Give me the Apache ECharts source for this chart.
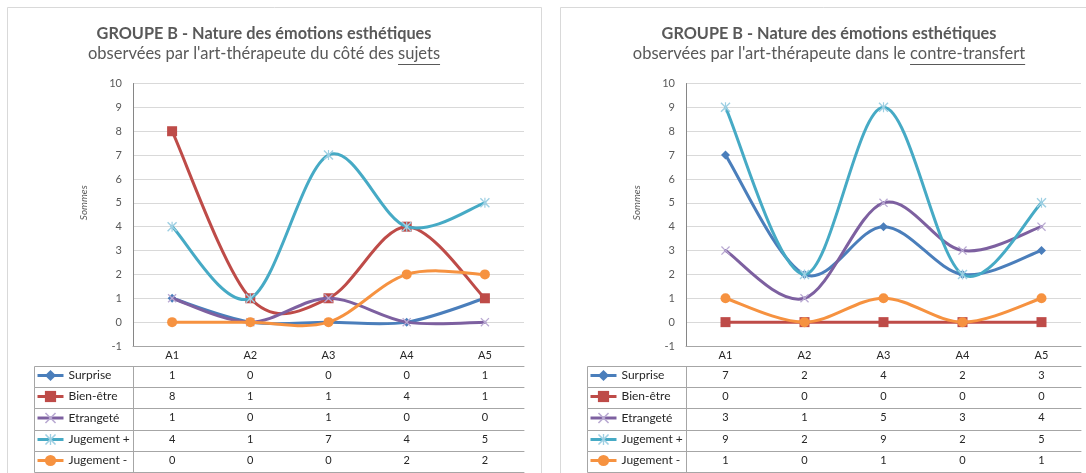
<!DOCTYPE html>
<html>
<head>
<meta charset="utf-8">
<script src="https://cdn.jsdelivr.net/npm/echarts@6/dist/echarts.min.js"></script>
<style>
html, body { margin: 0; padding: 0; background: #fff; overflow: hidden; }
#main { width: 1086px; height: 473px; }
</style>
</head>
<body>
<div id="main"></div>
<script>
// categories + series names
var categories = ['A1', 'A2', 'A3', 'A4', 'A5']
var seriesNames = ['Surprise', 'Bien-être', 'Etrangeté', 'Jugement +', 'Jugement -']

// panneau gauche : du côté des sujets
var sujetsSurprise = [1, 0, 0, 0, 1]
var sujetsBienEtre = [8, 1, 1, 4, 1]
var sujetsEtrangete = [1, 0, 1, 0, 0]
var sujetsJugementPlus = [4, 1, 7, 4, 5]
var sujetsJugementMoins = [0, 0, 0, 2, 2]

// panneau droit : contre-transfert
var ctSurprise = [7, 2, 4, 2, 3]
var ctBienEtre = [0, 0, 0, 0, 0]
var ctEtrangete = [3, 1, 5, 3, 4]
var ctJugementPlus = [9, 2, 9, 2, 5]
var ctJugementMoins = [1, 0, 1, 0, 1]

var FONT = 'Lato, "Open Sans", sans-serif'
var TXT = '#595959'
var TABLE_LINE = '#a6a6a6'
var HEAD_H = 20
var ROW_H = 21.2
var colors = ['#4A7EBB', '#BE4B48', '#7D60A0', '#46AAC5', '#F69240']
var markerColors = ['#4A7EBB', '#BE4B48', '#b9a9d2', '#9fd0e3', '#F69240']
var X_PATH = 'path://M0,1L1,0L5,4L9,0L10,1L6,5L10,9L9,10L5,6L1,10L0,9L4,5Z'
var STAR_PATH = 'path://M0,1L1,0L4.4,3.4L4.4,0L5.6,0L5.6,3.4L9,0L10,1L6,5L10,9L9,10L5.6,6.6L5.6,10L4.4,10L4.4,6.6L1,10L0,9L4,5Z'
var symbols = ['diamond', 'rect', X_PATH, STAR_PATH, 'circle']
var symbolSizes = [9, 10, 9, 10, 10]

var panels = [
  {
    title: 'GROUPE B - Nature des émotions esthétiques',
    subPrefix: "observées par l'art-thérapeute du côté des ",
    subUnder: 'sujets',
    center: 264,
    gridLeft: 133,
    gridWidth: 391,
    tableLeft: 34,
    box: [7.5, 7.5, 534, 480],
    values: [sujetsSurprise, sujetsBienEtre, sujetsEtrangete, sujetsJugementPlus, sujetsJugementMoins]
  },
  {
    title: 'GROUPE B - Nature des émotions esthétiques',
    subPrefix: "observées par l'art-thérapeute dans le ",
    subUnder: 'contre-transfert',
    center: 829,
    gridLeft: 686,
    gridWidth: 395,
    tableLeft: 587,
    box: [560.5, 7.5, 540, 480],
    values: [ctSurprise, ctBienEtre, ctEtrangete, ctJugementPlus, ctJugementMoins]
  }
]

var GRID_TOP = 83.5
var GRID_H = 262.5

// décalage (px entiers) de la ligne k du tableau sous l'axe
function rowOffset(k) {
  return HEAD_H + Math.round(k * ROW_H)
}

var measure = document.createElement('canvas').getContext('2d')
function textWidth(txt, font) {
  measure.font = font
  return measure.measureText(txt).width
}

// courbe lissée façon Excel (Catmull-Rom) entre deux points consécutifs
function smoothSegment(vals, color) {
  return function(params, api) {
    var i = params.dataIndex
    var n = vals.length
    if (i >= n - 1) return null
    var p0 = api.coord([Math.max(i - 1, 0), vals[Math.max(i - 1, 0)]])
    var p1 = api.coord([i, vals[i]])
    var p2 = api.coord([i + 1, vals[i + 1]])
    var p3 = api.coord([Math.min(i + 2, n - 1), vals[Math.min(i + 2, n - 1)]])
    return {
      type: 'bezierCurve',
      shape: {
        x1: p1[0], y1: p1[1],
        x2: p2[0], y2: p2[1],
        cpx1: p1[0] + (p2[0] - p0[0]) / 6, cpy1: p1[1] + (p2[1] - p0[1]) / 6,
        cpx2: p2[0] - (p3[0] - p1[0]) / 6, cpy2: p2[1] - (p3[1] - p1[1]) / 6
      },
      style: { stroke: color, lineWidth: 3, fill: null, lineCap: 'round' }
    }
  }
}

var myChart = echarts.init(document.getElementById('main'))
var option = {
  backgroundColor: '#fff',
  animation: false,
  grid: [],
  xAxis: [],
  yAxis: [],
  legend: [],
  series: [],
  graphic: []
}

panels.forEach(function(p, pi) {
  option.grid.push({ left: p.gridLeft, top: GRID_TOP, width: p.gridWidth, height: GRID_H })

  // panel frame
  option.graphic.push({
    type: 'rect', z: -10,
    shape: { x: p.box[0], y: p.box[1], width: p.box[2], height: p.box[3] },
    style: { fill: '#fff', stroke: '#d9d9d9', lineWidth: 1 }
  })
  // titles
  option.graphic.push({
    type: 'text', x: p.center, y: 34,
    style: { text: p.title, font: 'bold 16.3px ' + FONT, fill: TXT, align: 'center', verticalAlign: 'middle' }
  })
  var subFont = '16.5px ' + FONT
  var sub = p.subPrefix + p.subUnder
  option.graphic.push({
    type: 'text', x: p.center, y: 54,
    style: { text: sub, font: subFont, fill: TXT, align: 'center', verticalAlign: 'middle' }
  })
  var full = textWidth(sub, subFont)
  var x0 = p.center - full / 2 + textWidth(p.subPrefix, subFont)
  option.graphic.push({
    type: 'line',
    shape: { x1: x0, y1: 64.5, x2: x0 + textWidth(p.subUnder, subFont), y2: 64.5 },
    style: { stroke: TXT, lineWidth: 1 }
  })

  // legend column cells of the data table
  var axisY = GRID_TOP + GRID_H
  for (var r = 0; r < seriesNames.length; r++) {
    var top = axisY + rowOffset(r)
    var h = rowOffset(r + 1) - rowOffset(r)
    option.graphic.push({
      type: 'rect',
      shape: { x: p.tableLeft + 0.5, y: Math.round(top) + 0.5, width: p.gridLeft - p.tableLeft, height: h },
      style: { fill: 'none', stroke: TABLE_LINE, lineWidth: 1 }
    })
    option.legend.push({
      orient: 'vertical',
      left: p.tableLeft + 2,
      top: top + (h - 14) / 2,
      itemWidth: 26, itemHeight: 14,
      padding: 0,
      selectedMode: false,
      data: [seriesNames[r]],
      lineStyle: { opacity: 1, width: 3 },
      textStyle: { fontSize: 12, color: '#262626', fontFamily: FONT }
    })
  }

  var axisBase = option.xAxis.length
  // header row A1..A5
  option.xAxis.push({
    type: 'category', gridIndex: pi, data: categories, position: 'bottom',
    axisLine: { onZero: false, lineStyle: { color: TABLE_LINE } },
    axisTick: { length: HEAD_H, interval: 0, lineStyle: { color: TABLE_LINE } },
    axisLabel: { margin: 4, interval: 0, fontSize: 11, color: '#262626', fontFamily: FONT },
    splitLine: { show: false }
  })
  // value rows
  p.values.forEach(function(vals, k) {
    option.xAxis.push({
      type: 'category', gridIndex: pi, data: categories, position: 'bottom',
      offset: rowOffset(k),
      axisLine: { onZero: false, lineStyle: { color: TABLE_LINE } },
      axisTick: { length: rowOffset(k + 1) - rowOffset(k), interval: 0, lineStyle: { color: TABLE_LINE } },
      axisLabel: {
        margin: 4, interval: 0, fontSize: 11, color: '#262626', fontFamily: FONT,
        formatter: function(v, i) { return String(vals[i]) }
      },
      splitLine: { show: false }
    })
  })
  // closing bottom line
  option.xAxis.push({
    type: 'category', gridIndex: pi, data: categories, position: 'bottom',
    offset: rowOffset(p.values.length),
    axisLine: { onZero: false, lineStyle: { color: TABLE_LINE } },
    axisTick: { show: false },
    axisLabel: { show: false }
  })

  option.yAxis.push({
    type: 'value', gridIndex: pi, min: -1, max: 10, interval: 1,
    name: 'Sommes', nameLocation: 'middle', nameGap: 44,
    nameTextStyle: { fontStyle: 'italic', fontSize: 10, color: TXT, fontFamily: FONT, padding: [0, 0, 0, 24] },
    axisLine: { show: true, lineStyle: { color: '#868686' } },
    axisTick: { show: false },
    axisLabel: { fontSize: 11, color: TXT, margin: 11, fontFamily: FONT },
    splitLine: { lineStyle: { color: '#d9d9d9' } }
  })

  p.values.forEach(function(vals, k) {
    // trait lissé
    option.series.push({
      type: 'custom',
      xAxisIndex: axisBase, yAxisIndex: pi,
      data: vals.map(function(v, i) { return [i, v] }),
      renderItem: smoothSegment(vals, colors[k]),
      silent: true,
      z: 2 + k * 2
    })
    // marqueurs (et clé de légende)
    option.series.push({
      name: seriesNames[k],
      type: 'line',
      xAxisIndex: axisBase, yAxisIndex: pi,
      data: vals,
      symbol: symbols[k],
      symbolSize: symbolSizes[k],
      lineStyle: { width: 3, color: colors[k], opacity: 0 },
      itemStyle: { color: markerColors[k] },
      z: 3 + k * 2
    })
  })
})

myChart.setOption(option)
window.onresize = function() {
  myChart.resize()
}
</script>
</body>
</html>
